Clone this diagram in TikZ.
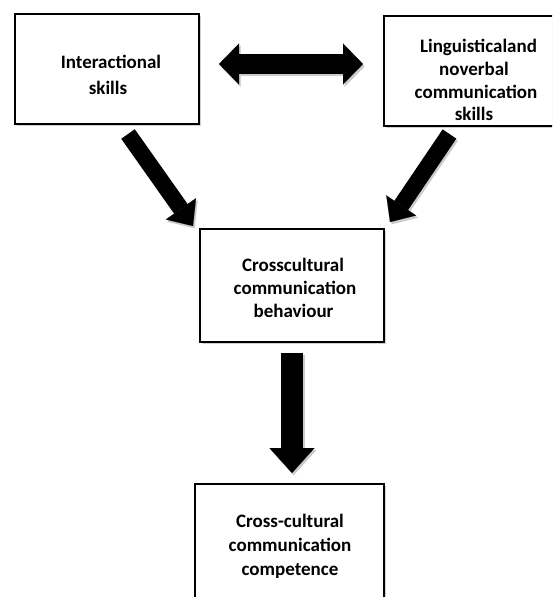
\documentclass[tikz,border=0pt]{standalone}
\usepackage{fontspec}
\setmainfont{Carlito}
\usetikzlibrary{arrows.meta,shadows}
\begin{document}
\begin{tikzpicture}[x=1pt,y=-1pt,
  box/.style={draw=black,line width=1.1pt,fill=white,rectangle,inner sep=0pt,
    drop shadow={shadow xshift=1.6pt,shadow yshift=-2.2pt,opacity=0.3,fill=black!60}},
  txt/.style={font=\fontsize{19}{23}\selectfont\bfseries,inner sep=0pt,anchor=base},
  fat/.style={line width=#1},
  shade/.style={black!45,opacity=0.45,transform canvas={shift={(1.6pt,-2.2pt)}}}
]
\useasboundingbox (0,0) rectangle (552,597);
\clip (0,0) rectangle (552,597);
\fill[white] (0,0) rectangle (552,597);
% boxes
\node[box,minimum width=184,minimum height=110] (b1) at (107,69) {};
\node[box,minimum width=180,minimum height=110] (b2) at (474,71) {};
\node[box,minimum width=184,minimum height=113] (b3) at (292,285.5) {};
\node[box,minimum width=189,minimum height=126] (b4) at (289.5,547) {};
% texts
\node[txt] (t1a) at (111,68) {Interactional};
\node[txt] (t1b) at (108,94) {skills};
\node[txt] (t2a) at (478.5,52) {Linguisticaland};
\node[txt] (t2b) at (474,75) {noverbal};
\node[txt] (t2c) at (476,98) {communication};
\node[txt] (t2d) at (474,120) {skills};
\node[txt] (t3a) at (293,271) {Crosscultural};
\node[txt] (t3b) at (295,294) {communication};
\node[txt] (t3c) at (293.5,317) {behaviour};
\node[txt] (t4a) at (290,527) {Cross-cultural};
\node[txt] (t4b) at (290,551) {communication};
\node[txt] (t4c) at (290,575) {competence};
% arrow end points
\coordinate (d1) at (219,64);
\coordinate (d2) at (363,64);
\coordinate (l1) at (128,134);
\coordinate (l2) at (193,226);
\coordinate (r1) at (449.5,134);
\coordinate (r2) at (390,222);
\coordinate (v1) at (292,353);
\coordinate (v2) at (292,473);
% shadows of arrows
\draw[shade,fat=20pt,{Triangle[length=20pt,width=41pt,line width=0.1pt]}-{Triangle[length=20pt,width=41pt,line width=0.1pt]}] (d1) -- (d2);
\draw[shade,fat=16.5pt,-{Triangle[length=21pt,width=37pt,line width=0.1pt]}] (l1) -- (l2);
\draw[shade,fat=16.5pt,-{Triangle[length=20pt,width=36pt,line width=0.1pt]}] (r1) -- (r2);
\draw[shade,fat=22pt,-{Triangle[length=25pt,width=45pt,line width=0.1pt]}] (v1) -- (v2);
% arrows
\draw[fat=20pt,{Triangle[length=20pt,width=41pt,line width=0.1pt]}-{Triangle[length=20pt,width=41pt,line width=0.1pt]}] (d1) -- (d2);
\draw[fat=16.5pt,-{Triangle[length=21pt,width=37pt,line width=0.1pt]}] (l1) -- (l2);
\draw[fat=16.5pt,-{Triangle[length=20pt,width=36pt,line width=0.1pt]}] (r1) -- (r2);
\draw[fat=22pt,-{Triangle[length=25pt,width=45pt,line width=0.1pt]}] (v1) -- (v2);
\end{tikzpicture}
\end{document}
